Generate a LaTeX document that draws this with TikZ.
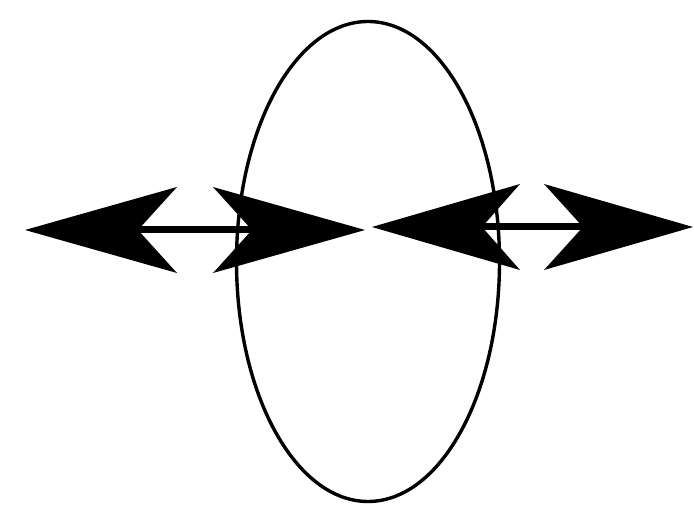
\documentclass[tikz,border=0pt]{standalone}
\usetikzlibrary{shapes.geometric}
\begin{document}
\begin{tikzpicture}[x=1pt,y=-1pt,
  ring/.style={draw=black,line width=3.4pt},
  shaft/.style={draw=black,line width=7pt},
  head/.style={fill=black}]
\useasboundingbox (0,0) rectangle (694,521);
% ellipse
\node[ring,ellipse,minimum width=263pt,minimum height=480pt,inner sep=0pt] (ell) at (368,261.5) {};
% left arrow
\coordinate (la) at (25,230);
\coordinate (lb) at (365,230);
\coordinate (lna) at (138,230);
\coordinate (lnb) at (252,230);
\draw[shaft] (lna) -- (lnb);
\fill[head] (la) -- (177,187) -- (lna) -- (177,273) -- cycle;
\fill[head] (lb) -- (213,187) -- (lnb) -- (213,273) -- cycle;
% right arrow
\coordinate (ra) at (372,227);
\coordinate (rb) at (693,227);
\coordinate (rna) at (482,227);
\coordinate (rnb) at (583,227);
\draw[shaft] (rna) -- (rnb);
\fill[head] (ra) -- (520,184) -- (rna) -- (520,270) -- cycle;
\fill[head] (rb) -- (544,184) -- (rnb) -- (544,270) -- cycle;
\end{tikzpicture}
\end{document}
